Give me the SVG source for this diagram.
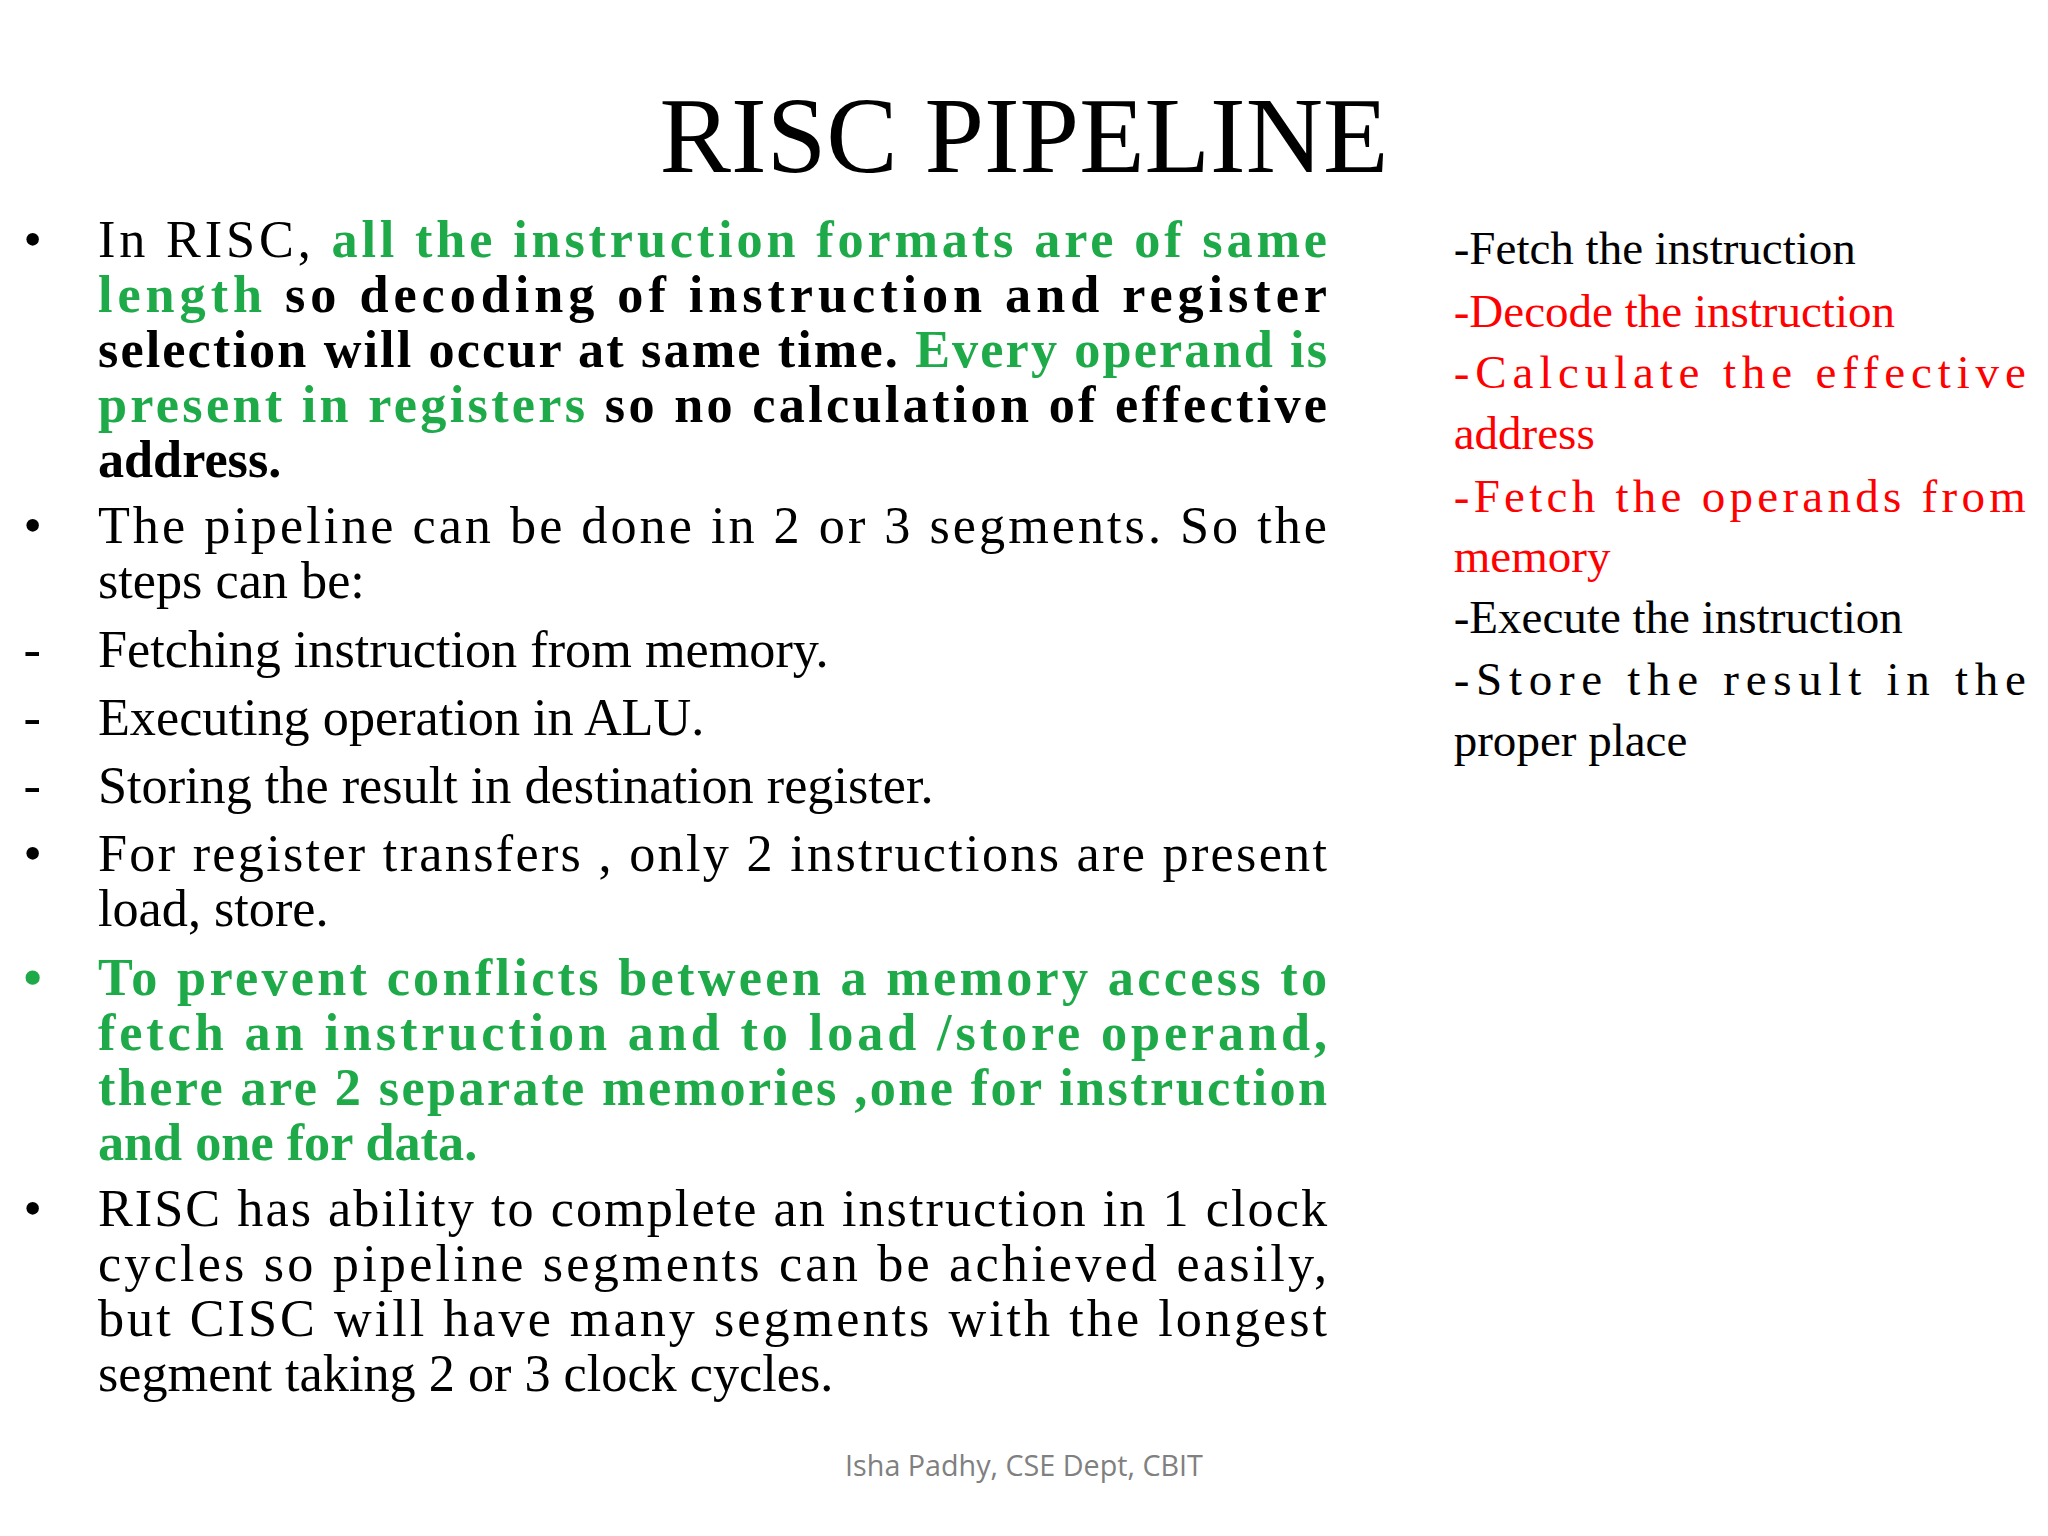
<svg xmlns="http://www.w3.org/2000/svg" width="2048" height="1536" viewBox="0 0 2048 1536">
<style>
.b{font-family:"Liberation Serif",serif;font-size:40px;fill:#000}
.r{font-family:"Liberation Serif",serif;font-size:36px;fill:#000}
.g{fill:#1faa4a;font-weight:bold}
.k{font-weight:bold}
.red{fill:#ff0000}
</style>
<rect width="2048" height="1536" fill="#fff"/>
<g transform="scale(1.30612)">
<text x="784" y="132" text-anchor="middle" font-family="Liberation Serif,serif" font-size="82">RISC PIPELINE</text>
<g id="left" class="b">
<text x="18" y="197">•</text>
<text x="75" y="197" textLength="941" lengthAdjust="spacing">In RISC, <tspan class="g">all the instruction formats are of same</tspan></text>
<text x="75" y="239" textLength="941" lengthAdjust="spacing"><tspan class="g">length</tspan><tspan class="k"> so decoding of instruction and register</tspan></text>
<text x="75" y="281" textLength="941" lengthAdjust="spacing"><tspan class="k">selection will occur at same time. </tspan><tspan class="g">Every operand is</tspan></text>
<text x="75" y="323" textLength="941" lengthAdjust="spacing"><tspan class="g">present in registers</tspan><tspan class="k"> so no calculation of effective</tspan></text>
<text x="75" y="365" class="k">address.</text>
<text x="18" y="416">•</text>
<text x="75" y="416" textLength="941" lengthAdjust="spacing">The pipeline can be done in 2 or 3 segments. So the</text>
<text x="75" y="458">steps can be:</text>
<text x="18" y="511">-</text><text x="75" y="511">Fetching instruction from memory.</text>
<text x="18" y="563">-</text><text x="75" y="563">Executing operation in ALU.</text>
<text x="18" y="615">-</text><text x="75" y="615">Storing the result in destination register.</text>
<text x="18" y="667">•</text>
<text x="75" y="667" textLength="941" lengthAdjust="spacing"> For register transfers , only 2 instructions are present</text>
<text x="75" y="709">load, store.</text>
<text x="18" y="762" class="g">•</text>
<text x="75" y="762" class="g" textLength="941" lengthAdjust="spacing">To prevent conflicts between a memory access to</text>
<text x="75" y="804" class="g" textLength="941" lengthAdjust="spacing">fetch an instruction and to load /store operand,</text>
<text x="75" y="846" class="g" textLength="941" lengthAdjust="spacing">there are 2 separate memories ,one for instruction</text>
<text x="75" y="888" class="g">and one for data.</text>
<text x="18" y="939">•</text>
<text x="75" y="939" textLength="941" lengthAdjust="spacing">RISC has ability to complete an instruction in 1 clock</text>
<text x="75" y="981" textLength="941" lengthAdjust="spacing">cycles so pipeline segments can be achieved easily,</text>
<text x="75" y="1023" textLength="941" lengthAdjust="spacing">but CISC will have many segments with the longest</text>
<text x="75" y="1065">segment taking 2 or 3 clock cycles.</text>
</g>
<g id="right" class="r">
<text x="1113" y="202">-Fetch the instruction</text>
<text x="1113" y="250" class="red">-Decode the instruction</text>
<text x="1113" y="297" class="red" textLength="438" lengthAdjust="spacing">-Calculate the effective</text>
<text x="1113" y="344" class="red">address</text>
<text x="1113" y="392" class="red" textLength="438" lengthAdjust="spacing">-Fetch the operands from</text>
<text x="1113" y="438" class="red">memory</text>
<text x="1113" y="485">-Execute the instruction</text>
<text x="1113" y="532" textLength="438" lengthAdjust="spacing">-Store the result in the</text>
<text x="1113" y="579">proper place</text>
</g>
<text x="784" y="1130" text-anchor="middle" font-family="Open Sans,sans-serif" font-size="22" fill="#808080">Isha Padhy, CSE Dept, CBIT</text>
</g>
</svg>
